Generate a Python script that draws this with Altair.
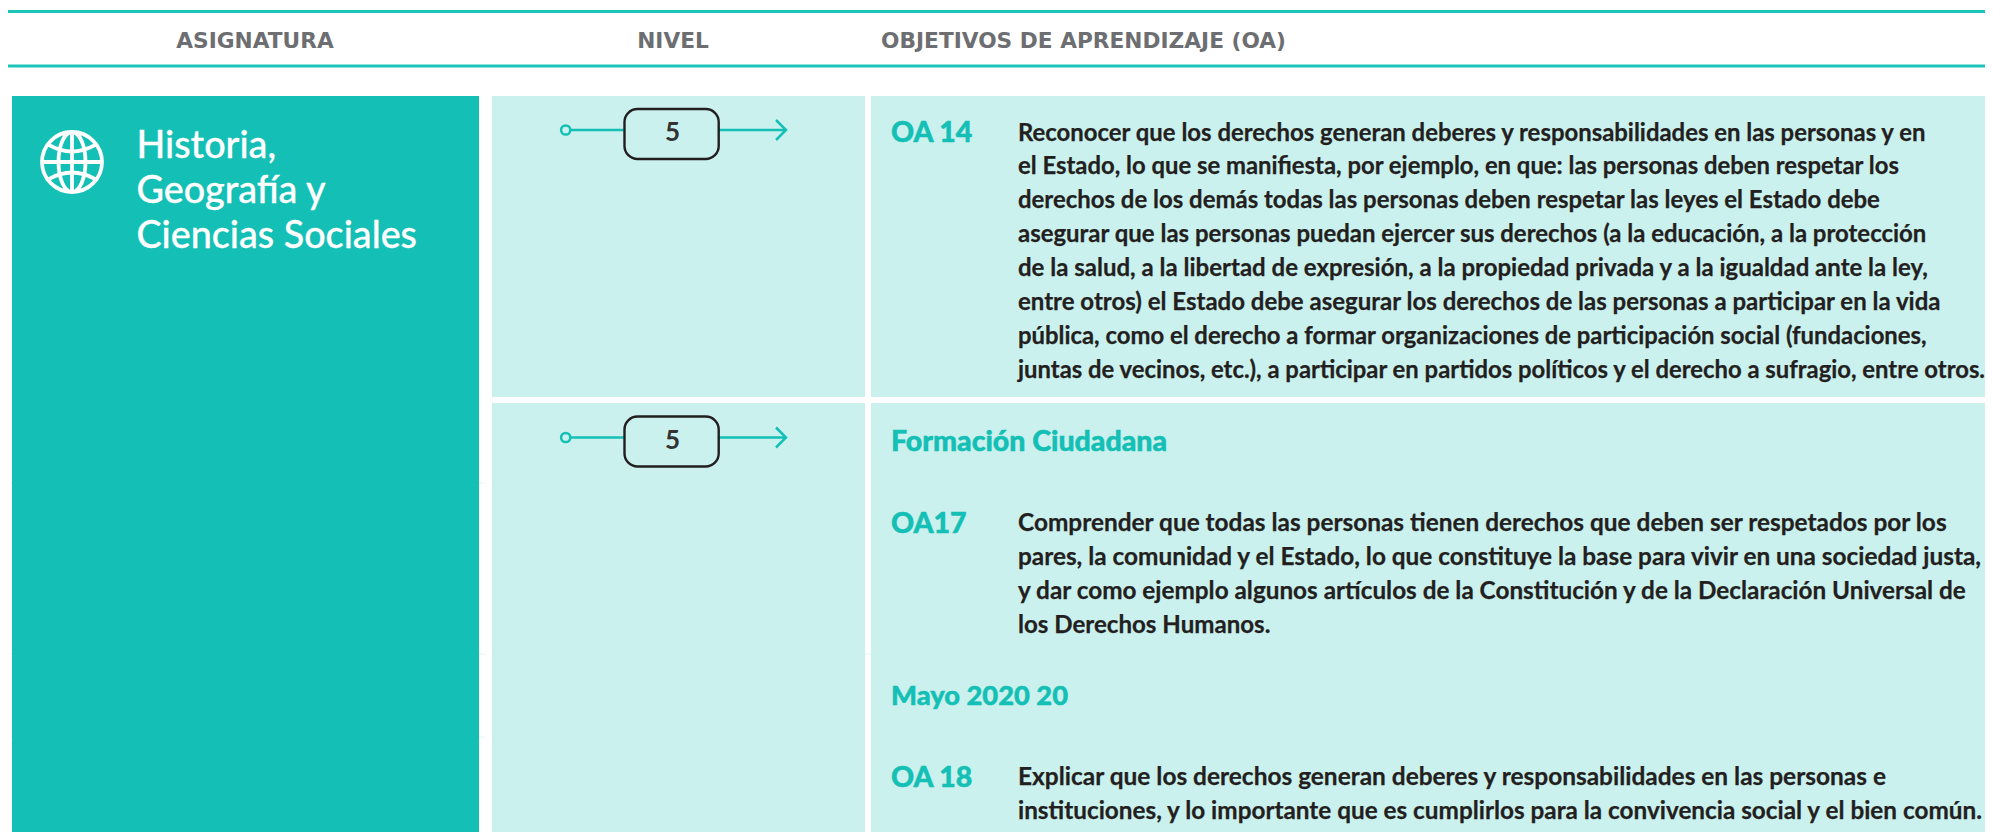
import altair as alt
import pandas as pd

TEAL = "#14bfb5"
LIGHT = "#caf1ee"
DARK = "#231f20"
GREY = "#6d6e71"

headers = ["ASIGNATURA", "NIVEL", "OBJETIVOS DE APRENDIZAJE (OA)"]
subject = ["Historia,", "Geografía y", "Ciencias Sociales"]
level = ["5", "5"]
oa_labels = ["OA 14", "OA17", "OA 18"]
oa14 = [
    "Reconocer que los derechos generan deberes y responsabilidades en las personas y en",
    "el Estado, lo que se manifiesta, por ejemplo, en que: las personas deben respetar los",
    "derechos de los demás todas las personas deben respetar las leyes el Estado debe",
    "asegurar que las personas puedan ejercer sus derechos (a la educación, a la protección",
    "de la salud, a la libertad de expresión, a la propiedad privada y a la igualdad ante la ley,",
    "entre otros) el Estado debe asegurar los derechos de las personas a participar en la vida",
    "pública, como el derecho a formar organizaciones de participación social (fundaciones,",
    "juntas de vecinos, etc.), a participar en partidos políticos y el derecho a sufragio, entre otros.",
]
oa17 = [
    "Comprender que todas las personas tienen derechos que deben ser respetados por los",
    "pares, la comunidad y el Estado, lo que constituye la base para vivir en una sociedad justa,",
    "y dar como ejemplo algunos artículos de la Constitución y de la Declaración Universal de",
    "los Derechos Humanos.",
]
oa18 = [
    "Explicar que los derechos generan deberes y responsabilidades en las personas e",
    "instituciones, y lo importante que es cumplirlos para la convivencia social y el bien común.",
]

RIGHT = 1985
X = alt.Scale(domain=[8, RIGHT], nice=False, zero=False)
Y = alt.Scale(domain=[832, 8], nice=False, zero=False)
W, H = RIGHT - 8, 824


def xe(f="x"):
    return alt.X(f"{f}:Q", scale=X, axis=None)


def ye(f="y"):
    return alt.Y(f"{f}:Q", scale=Y, axis=None)


def rects(rows, color, **kw):
    return alt.Chart(pd.DataFrame(rows, columns=["x", "x2", "y", "y2"])).mark_rect(color=color, **kw).encode(
        x=xe(), x2="x2:Q", y=ye(), y2="y2:Q")


def segs(rows, color, width):
    return alt.Chart(pd.DataFrame(rows, columns=["x", "x2", "y"])).mark_rule(color=color, strokeWidth=width).encode(
        x=xe(), x2="x2:Q", y=ye())


def texts(xs, ys, labels, **kw):
    df = pd.DataFrame({"x": xs, "y": ys, "t": labels})
    kw.setdefault("align", "left")
    return alt.Chart(df).mark_text(baseline="alphabetic", **kw).encode(x=xe(), y=ye(), text="t:N")


def body(ys, labels, fit):
    df = pd.DataFrame({"x": [1018] * len(ys), "y": ys, "t": labels, "s": fit})
    return alt.Chart(df).mark_text(baseline="alphabetic", align="left", font="Lato", fontWeight="bold",
                                   color=DARK, stroke=DARK, strokeWidth=0.25).encode(
        x=xe(), y=ye(), text="t:N", size=alt.Size("s:Q", scale=None))


def pts(xs, ys, shape, size, **kw):
    df = pd.DataFrame({"x": xs, "y": ys})
    return alt.Chart(df).mark_point(shape=shape, size=size, **kw).encode(x=xe(), y=ye())


GLOBE = ("M-1,0A1,1 0 1,1 1,0A1,1 0 1,1 -1,0Z M0,-1L0,1 M-1,0L1,0 "
         "M0,-1A0.45,1 0 1,1 0,1A0.45,1 0 1,1 0,-1Z "
         "M-0.76,-0.56Q0,-0.14 0.76,-0.56 M-0.76,0.56Q0,0.14 0.76,0.56")
ARROW = "M-1,-1L0,0L-1,1"

LABEL = dict(font="Lato", fontWeight=900, color=TEAL, stroke=TEAL, strokeWidth=0.5)
row_y = [130, 437.5]

fit14 = [23.9, 23.85, 23.95, 23.95, 24.0, 24.0, 23.85, 23.85]
fit17 = [24.4, 24.35, 24.3, 24.1]
fit18 = [24.45, 24.3]

layers = [
    segs([(10, 485, 483), (10, 485, 654), (10, 485, 737), (865, 871, 654)], "#e3f6f4", 1),
    segs([(8, RIGHT, 11.5), (8, RIGHT, 66)], "#1cc4b9", 3),
    rects([(12, 479, 96, 832)], TEAL),
    rects([(492, 865, 96, 397), (871, RIGHT, 96, 397), (492, 865, 403, 832), (871, RIGHT, 403, 832)], LIGHT),
    pts([72], [162], GLOBE, 3600, filled=False, color="white", strokeWidth=3.8, opacity=1),
    texts([136.5] * 3, [158, 203, 248], subject, font="Lato", fontWeight=500, fontSize=37.7, color="white",
          stroke="white", strokeWidth=0.3),
    texts([255, 673, 1083.5], [47.5, 47.5, 47.5], headers, font="DejaVu Sans", fontWeight="bold", fontSize=21.7,
          color=GREY, align="center"),
    segs([(570, 624, y) for y in row_y] + [(719, 785, y) for y in row_y], TEAL, 2.5),
    pts([565.7] * 2, row_y, "circle", 85, filled=False, color=TEAL, strokeWidth=2.5, opacity=1),
    pts([786] * 2, row_y, ARROW, 400, filled=False, color=TEAL, strokeWidth=2.5, opacity=1),
    rects([(624.5, 718.7, y - 21, y + 29) for y in row_y], LIGHT, stroke=DARK, strokeWidth=2.4, cornerRadius=13),
    texts([672.5] * 2, [y + 11 for y in row_y], level, font="Lato", fontWeight="bold", fontSize=26, color="#333333",
          align="center"),
    texts([891] * 3, [142, 532.5, 787], oa_labels, fontSize=28.5, **LABEL),
    texts([891], [451], ["Formación Ciudadana"], fontSize=28.5, **LABEL),
    texts([891], [705], ["Mayo 2020 20"], fontSize=27.3, **LABEL),
    body([140.5 + 33.9 * i for i in range(8)], oa14, fit14),
    body([531 + 33.9 * i for i in range(4)], oa17, fit17),
    body([785, 818.5], oa18, fit18),
]

chart = alt.layer(*layers).properties(
    width=W, height=H, padding=0, autosize=alt.AutoSizeParams(type="none"), background="white"
).configure_view(stroke=None)

chart.save("out.html", embed_options={"renderer": "svg", "actions": False})
